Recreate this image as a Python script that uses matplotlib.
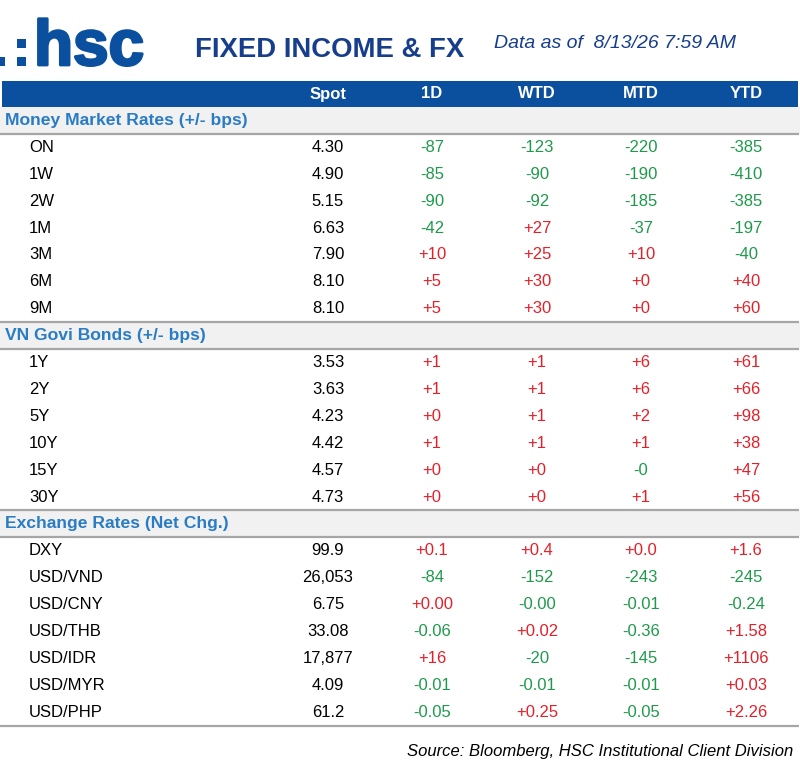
import matplotlib
matplotlib.use('Agg')
import matplotlib.pyplot as plt
from matplotlib.patches import Rectangle
import matplotlib.patheffects as pe

plt.rcParams['font.family'] = ['Liberation Sans', 'DejaVu Sans']

# 表头
columns = ['Spot', '1D', 'WTD', 'MTD', 'YTD']

# Money Market
mm_tenors = ['ON', '1W', '2W', '1M', '3M', '6M', '9M']
mm_spot = ['4.30', '4.90', '5.15', '6.63', '7.90', '8.10', '8.10']
mm_1d = ['-87', '-85', '-90', '-42', '+10', '+5', '+5']
mm_wtd = ['-123', '-90', '-92', '+27', '+25', '+30', '+30']
mm_mtd = ['-220', '-190', '-185', '-37', '+10', '+0', '+0']
mm_ytd = ['-385', '-410', '-385', '-197', '-40', '+40', '+60']

# VN Govi Bonds
bond_tenors = ['1Y', '2Y', '5Y', '10Y', '15Y', '30Y']
bond_spot = ['3.53', '3.63', '4.23', '4.42', '4.57', '4.73']
bond_1d = ['+1', '+1', '+0', '+1', '+0', '+0']
bond_wtd = ['+1', '+1', '+1', '+1', '+0', '+0']
bond_mtd = ['+6', '+6', '+2', '+1', '-0', '+1']
bond_ytd = ['+61', '+66', '+98', '+38', '+47', '+56']

# Exchange Rates
fx_pairs = ['DXY', 'USD/VND', 'USD/CNY', 'USD/THB', 'USD/IDR', 'USD/MYR', 'USD/PHP']
fx_spot = ['99.9', '26,053', '6.75', '33.08', '17,877', '4.09', '61.2']
fx_1d = ['+0.1', '-84', '+0.00', '-0.06', '+16', '-0.01', '-0.05']
fx_wtd = ['+0.4', '-152', '-0.00', '+0.02', '-20', '-0.01', '+0.25']
fx_mtd = ['+0.0', '-243', '-0.01', '-0.36', '-145', '-0.01', '-0.05']
fx_ytd = ['+1.6', '-245', '-0.24', '+1.58', '+1106', '+0.03', '+2.26']

sections = [
    ('Money Market Rates (+/- bps)', mm_tenors, [mm_spot, mm_1d, mm_wtd, mm_mtd, mm_ytd]),
    ('VN Govi Bonds (+/- bps)', bond_tenors, [bond_spot, bond_1d, bond_wtd, bond_mtd, bond_ytd]),
    ('Exchange Rates (Net Chg.)', fx_pairs, [fx_spot, fx_1d, fx_wtd, fx_mtd, fx_ytd]),
]

BLUE = '#0b4f9f'
NAVY = '#173e8c'
SEC_BLUE = '#2a7cc4'
RED = '#e3202a'
GREEN = '#1f9a4c'
GRAY_LINE = '#a6a6a6'
BAND = '#f1f1f1'

col_x = [328, 432, 537, 641, 746]
row_h = 26.9
fs = 12

fig = plt.figure(figsize=(8, 7.8), dpi=100)
ax = fig.add_axes([0, 0, 1, 1])
ax.set_xlim(0, 800)
ax.set_ylim(780, 0)
ax.axis('off')

# logo
for (x0, y0) in [(-4, 57), (17, 57), (17, 39)]:
    ax.add_patch(Rectangle((x0, y0), 9, 9, color=BLUE, lw=0))
ax.text(34, 65, 'hsc', fontsize=46, fontweight='bold', color=BLUE, ha='left', va='baseline',
        path_effects=[pe.withStroke(linewidth=2, foreground=BLUE)])

ax.text(195, 57, 'FIXED INCOME & FX', fontsize=19.8, fontweight='bold', color=NAVY,
        ha='left', va='baseline')
ax.text(494, 48, 'Data as of  8/13/26 7:59 AM', fontsize=14, style='italic', color=NAVY,
        ha='left', va='baseline')

# 表头蓝条
ax.add_patch(Rectangle((2, 81), 796, 26, color=BLUE, lw=0))
for name, x in zip(columns, col_x):
    ax.text(x, 94, name, fontsize=fs, fontweight='bold', color='white', ha='center', va='center')

y = 107
for si, (title, labels, cols) in enumerate(sections):
    ax.add_patch(Rectangle((0, y), 800, row_h, color=BAND, lw=0))
    if si > 0:
        ax.plot([0, 799], [y, y], color=GRAY_LINE, lw=1.6, solid_capstyle='butt')
    ax.plot([0, 799], [y + row_h, y + row_h], color=GRAY_LINE, lw=1.6, solid_capstyle='butt')
    ax.text(5, y + row_h / 2, title, fontsize=12.6, fontweight='bold', color=SEC_BLUE,
            ha='left', va='center')
    y += row_h
    for i, lab in enumerate(labels):
        yc = y + row_h / 2
        ax.text(29, yc, lab, fontsize=fs, color='black', ha='left', va='center')
        for j, vals in enumerate(cols):
            v = vals[i]
            if j == 0:
                c = 'black'
            else:
                c = RED if v.startswith('+') else GREEN
            ax.text(col_x[j], yc, v, fontsize=fs, color=c, ha='center', va='center')
        y += row_h

ax.plot([0, 799], [y, y], color=GRAY_LINE, lw=1.6, solid_capstyle='butt')

ax.text(793, 756, 'Source: Bloomberg, HSC Institutional Client Division', fontsize=12,
        style='italic', color='black', ha='right', va='baseline')

fig.savefig('out.png', dpi=100)
